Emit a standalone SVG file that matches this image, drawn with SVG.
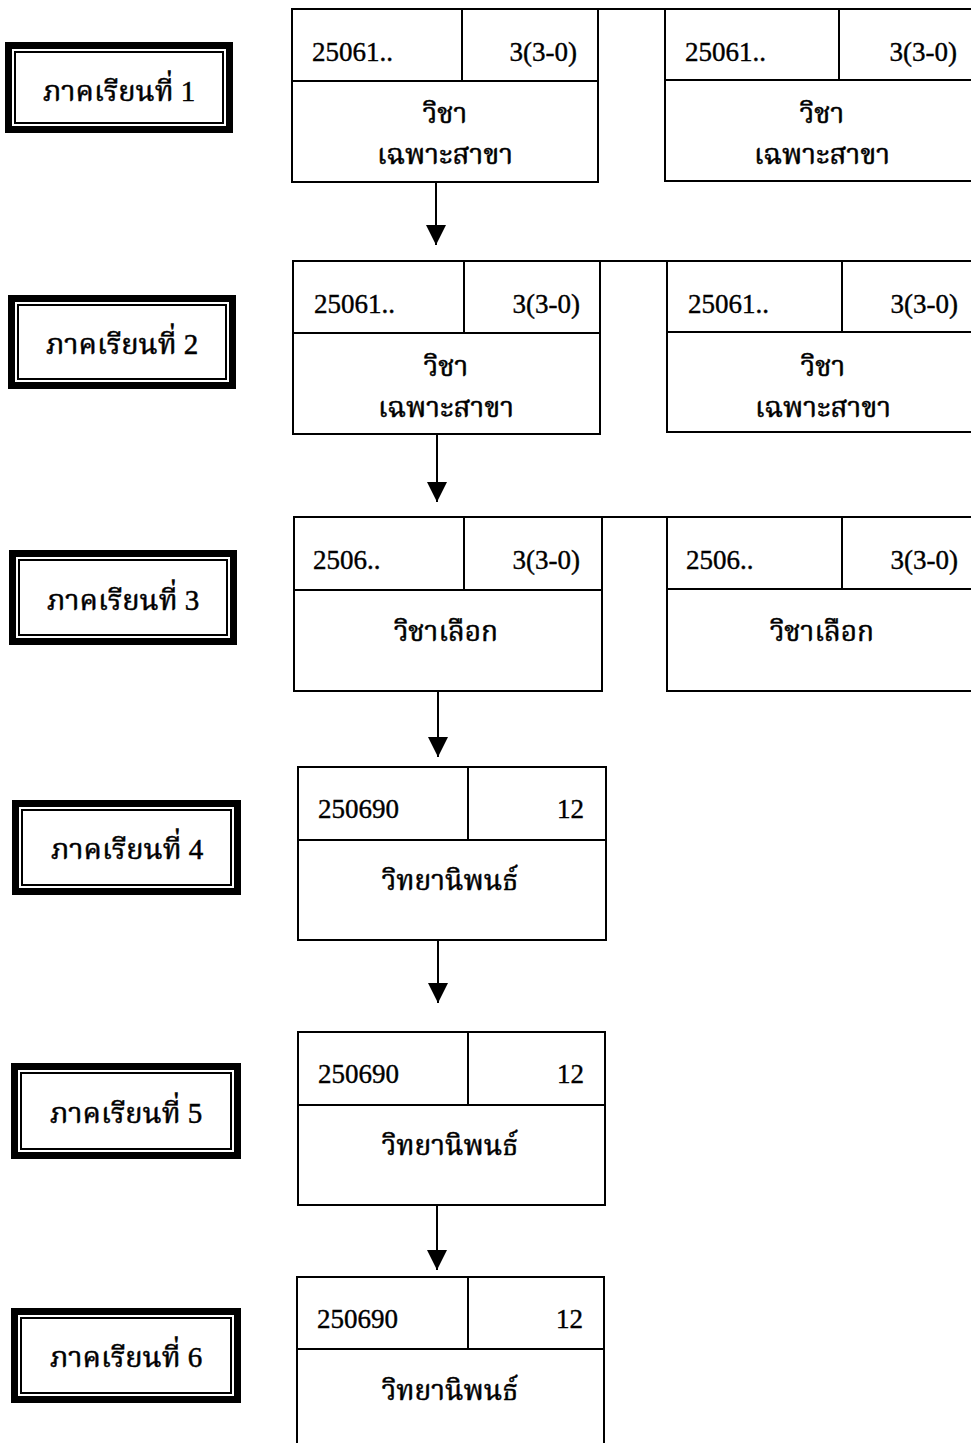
<svg xmlns="http://www.w3.org/2000/svg" width="971" height="1443" viewBox="0 0 971 1443">
<style>
.bg{fill:#fff}
.semOuter{fill:#000}
.semGap{fill:#fff}
.semInner{fill:#fff;stroke:#000;stroke-width:2}
.box{fill:#fff;stroke:#000;stroke-width:2}
.div{stroke:#000;stroke-width:2;fill:none}
.conn{stroke:#000;stroke-width:2;fill:none}
.t{font-family:"Liberation Serif",serif;font-size:27px;fill:#000;stroke:#000;stroke-width:0.4}
.th{font-family:"Liberation Serif","Noto Serif Thai","Noto Sans Thai","Noto Sans",serif;font-size:28px;fill:#000;stroke:#000;stroke-width:0.5;text-anchor:middle}
.sem{font-family:"Liberation Serif","Noto Serif Thai","Noto Sans Thai","Noto Sans",serif;font-size:29px;fill:#000;stroke:#000;stroke-width:0.5;text-anchor:middle}
.num{font-family:"Liberation Serif",serif}
.r{text-anchor:end}
</style>
<defs>
<marker id="ah" viewBox="0 0 20 20" refX="20" refY="10" markerWidth="20" markerHeight="20" markerUnits="userSpaceOnUse" orient="auto">
<path d="M0,0 L20,10 L0,20 Z" fill="#000"/>
</marker>
</defs>
<rect class="bg" x="0" y="0" width="971" height="1443"/>

<g id="sem1">
<rect class="semOuter" x="5" y="42" width="228" height="91"/>
<rect class="semGap" x="12" y="49" width="214" height="77"/>
<rect class="semInner" x="15" y="52" width="208" height="71"/>
<text class="sem" x="119" y="101">ภาคเรียนที่ <tspan class="num">1</tspan></text>
</g>
<g id="sem2">
<rect class="semOuter" x="8" y="295" width="228" height="94"/>
<rect class="semGap" x="15" y="302" width="214" height="80"/>
<rect class="semInner" x="18" y="305" width="208" height="74"/>
<text class="sem" x="122" y="354">ภาคเรียนที่ <tspan class="num">2</tspan></text>
</g>
<g id="sem3">
<rect class="semOuter" x="9" y="550" width="228" height="95"/>
<rect class="semGap" x="16" y="557" width="214" height="81"/>
<rect class="semInner" x="19" y="560" width="208" height="75"/>
<text class="sem" x="123" y="610">ภาคเรียนที่ <tspan class="num">3</tspan></text>
</g>
<g id="sem4">
<rect class="semOuter" x="12" y="800" width="229" height="95"/>
<rect class="semGap" x="19" y="807" width="215" height="81"/>
<rect class="semInner" x="22" y="810" width="209" height="75"/>
<text class="sem" x="127" y="859">ภาคเรียนที่ <tspan class="num">4</tspan></text>
</g>
<g id="sem5">
<rect class="semOuter" x="11" y="1063" width="230" height="96"/>
<rect class="semGap" x="18" y="1070" width="216" height="82"/>
<rect class="semInner" x="21" y="1073" width="210" height="76"/>
<text class="sem" x="126" y="1123">ภาคเรียนที่ <tspan class="num">5</tspan></text>
</g>
<g id="sem6">
<rect class="semOuter" x="11" y="1308" width="230" height="95"/>
<rect class="semGap" x="18" y="1315" width="216" height="81"/>
<rect class="semInner" x="21" y="1318" width="210" height="75"/>
<text class="sem" x="126" y="1367">ภาคเรียนที่ <tspan class="num">6</tspan></text>
</g>

<g id="connectors">
<line class="conn" x1="598" y1="9" x2="665" y2="9"/>
<line class="conn" x1="600" y1="261" x2="667" y2="261"/>
<line class="conn" x1="602" y1="517" x2="667" y2="517"/>
<line class="conn" x1="436" y1="182" x2="436" y2="245" marker-end="url(#ah)"/>
<line class="conn" x1="437" y1="434" x2="437" y2="502" marker-end="url(#ah)"/>
<line class="conn" x1="438" y1="691" x2="438" y2="757" marker-end="url(#ah)"/>
<line class="conn" x1="438" y1="940" x2="438" y2="1003" marker-end="url(#ah)"/>
<line class="conn" x1="437" y1="1205" x2="437" y2="1270" marker-end="url(#ah)"/>
</g>

<g id="c1a">
<rect class="box" x="292" y="9" width="306" height="173"/>
<line class="div" x1="292" y1="81" x2="598" y2="81"/>
<line class="div" x1="462" y1="9" x2="462" y2="81"/>
<text class="t" x="312" y="61">25061..</text>
<text class="t r" x="577" y="61">3(3-0)</text>
<text class="th" x="445" y="123">วิชา</text>
<text class="th" x="445" y="164">เฉพาะสาขา</text>
</g>
<g id="c1b">
<rect class="box" x="665" y="9" width="320" height="172"/>
<line class="div" x1="665" y1="80" x2="985" y2="80"/>
<line class="div" x1="839" y1="9" x2="839" y2="80"/>
<text class="t" x="685" y="61">25061..</text>
<text class="t r" x="957" y="61">3(3-0)</text>
<text class="th" x="822" y="123">วิชา</text>
<text class="th" x="822" y="164">เฉพาะสาขา</text>
</g>

<g id="c2a">
<rect class="box" x="293" y="261" width="307" height="173"/>
<line class="div" x1="293" y1="333" x2="600" y2="333"/>
<line class="div" x1="464" y1="261" x2="464" y2="333"/>
<text class="t" x="314" y="313">25061..</text>
<text class="t r" x="580" y="313">3(3-0)</text>
<text class="th" x="446" y="376">วิชา</text>
<text class="th" x="446" y="417">เฉพาะสาขา</text>
</g>
<g id="c2b">
<rect class="box" x="667" y="261" width="318" height="171"/>
<line class="div" x1="667" y1="332" x2="985" y2="332"/>
<line class="div" x1="842" y1="261" x2="842" y2="332"/>
<text class="t" x="688" y="313">25061..</text>
<text class="t r" x="958" y="313">3(3-0)</text>
<text class="th" x="823" y="376">วิชา</text>
<text class="th" x="823" y="417">เฉพาะสาขา</text>
</g>

<g id="c3a">
<rect class="box" x="294" y="517" width="308" height="174"/>
<line class="div" x1="294" y1="590" x2="602" y2="590"/>
<line class="div" x1="464" y1="517" x2="464" y2="590"/>
<text class="t" x="313" y="569">2506..</text>
<text class="t r" x="580" y="569">3(3-0)</text>
<text class="th" x="446" y="641">วิชาเลือก</text>
</g>
<g id="c3b">
<rect class="box" x="667" y="517" width="318" height="174"/>
<line class="div" x1="667" y1="589" x2="985" y2="589"/>
<line class="div" x1="842" y1="517" x2="842" y2="589"/>
<text class="t" x="686" y="569">2506..</text>
<text class="t r" x="958" y="569">3(3-0)</text>
<text class="th" x="822" y="641">วิชาเลือก</text>
</g>

<g id="c4">
<rect class="box" x="298" y="767" width="308" height="173"/>
<line class="div" x1="298" y1="840" x2="606" y2="840"/>
<line class="div" x1="468" y1="767" x2="468" y2="840"/>
<text class="t" x="318" y="818">250690</text>
<text class="t r" x="584" y="818">12</text>
<text class="th" x="450" y="890">วิทยานิพนธ์</text>
</g>
<g id="c5">
<rect class="box" x="298" y="1032" width="307" height="173"/>
<line class="div" x1="298" y1="1105" x2="605" y2="1105"/>
<line class="div" x1="468" y1="1032" x2="468" y2="1105"/>
<text class="t" x="318" y="1083">250690</text>
<text class="t r" x="584" y="1083">12</text>
<text class="th" x="450" y="1155">วิทยานิพนธ์</text>
</g>
<g id="c6">
<rect class="box" x="297" y="1277" width="307" height="185"/>
<line class="div" x1="297" y1="1349" x2="604" y2="1349"/>
<line class="div" x1="468" y1="1277" x2="468" y2="1349"/>
<text class="t" x="317" y="1328">250690</text>
<text class="t r" x="583" y="1328">12</text>
<text class="th" x="450" y="1400">วิทยานิพนธ์</text>
</g>
</svg>
